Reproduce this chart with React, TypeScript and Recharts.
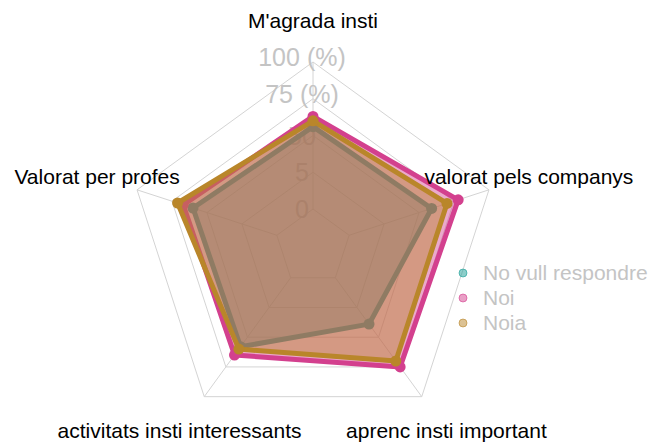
import React from "react";
import { RadarChart, Radar, PolarGrid, PolarAngleAxis, PolarRadiusAxis, Legend } from "recharts";

const categories = [
  "M'agrada insti",
  "valorat pels companys",
  "aprenc insti important",
  "activitats insti interessants",
  "Valorat per profes",
];
const noVullRespondre = [56, 59, 39, 58, 60];
const noi = [63, 78, 75, 65, 67];
const noia = [60, 70, 70, 60, 71];

const radiusTicks = [0, 25, 50, 75, 100];
const radiusTickLabels = ["0", "5", "50", "75 (%)", "100 (%)"];

const seriesKeys = ["nvr", "noi", "noia"];
const seriesNames = ["No vull respondre", "Noi", "Noia"];
const seriesColors = ["#1b9e96", "#d3408e", "#b9862a"];

const data = categories.map((axis, i) => ({
  axis,
  nvr: noVullRespondre[i],
  noi: noi[i],
  noia: noia[i],
}));

const CX = 313;
const CY = 247;
const FONT = "'Liberation Sans', Arial, sans-serif";

const AngleTick = (props: any) => {
  const { payload } = props;
  const cx = props.cx ?? CX;
  const cy = props.cy ?? CY;
  const rad = (-payload.coordinate * Math.PI) / 180;
  const r = 227;
  return (
    <text
      x={cx + r * Math.cos(rad)}
      y={cy + r * Math.sin(rad)}
      textAnchor="middle"
      dominantBaseline="central"
      fontSize={21}
      fontFamily={FONT}
      fill="#000"
    >
      {payload.value}
    </text>
  );
};

const RadiusTick = (props: any) => {
  const { x, y, index } = props;
  const label = radiusTickLabels[index];
  return (
    <text
      x={x - 11}
      y={y}
      dy={label.includes("%") ? -5 : 0}
      textAnchor="middle"
      dominantBaseline="central"
      fontSize={25}
      fontFamily={FONT}
      fill="#c4c4c4"
    >
      {label}
    </text>
  );
};

// polygon + vertex dots drawn together so later series cover earlier dots
const makeShape = (color: string) => (props: any) => {
  const pts = props.points || [];
  return (
    <g>
      <polygon
        points={pts.map((p: any) => `${p.x},${p.y}`).join(" ")}
        fill={color}
        fillOpacity={0.45}
        stroke={color}
        strokeWidth={5}
        strokeLinejoin="round"
      />
      {pts.map((p: any, i: number) => (
        <circle key={i} cx={p.x} cy={p.y} r={5.5} fill={color} />
      ))}
    </g>
  );
};

const renderLegend = () => (
  <div style={{ fontFamily: FONT }}>
    {seriesNames.map((name, i) => (
      <div key={name} style={{ display: "flex", alignItems: "center", height: 25, whiteSpace: "nowrap" }}>
        <svg width={10} height={10} style={{ flex: "none" }}>
          <circle cx={5} cy={5} r={4} fill={seriesColors[i]} fillOpacity={0.5} stroke={seriesColors[i]} strokeOpacity={0.6} />
        </svg>
        <span style={{ marginLeft: 15, color: "#c4c4c4", fontSize: 21 }}>{name}</span>
      </div>
    ))}
  </div>
);

export default function App() {
  return (
    <div style={{ position: "fixed", left: 0, top: 0, width: 648, height: 443, overflow: "hidden", background: "#fff" }}>
      <RadarChart
        width={648}
        height={443}
        data={data}
        cx={CX}
        cy={CY}
        innerRadius={38}
        outerRadius={185}
        margin={{ top: 0, right: 0, bottom: 0, left: 0 }}
      >
        <PolarGrid stroke="#d4d4d4" strokeWidth={1} />
        <PolarAngleAxis dataKey="axis" tick={<AngleTick />} tickLine={false} axisLine={false} />
        <PolarRadiusAxis
          angle={90}
          domain={[0, 100]}
          ticks={radiusTicks}
          tick={<RadiusTick />}
          tickLine={false}
          axisLine={false}
          zIndex={-50}
        />
        {seriesKeys.map((k, i) => (
          <Radar
            key={k}
            name={seriesNames[i]}
            dataKey={k}
            stroke={seriesColors[i]}
            fill={seriesColors[i]}
            shape={makeShape(seriesColors[i])}
            dot={false}
            isAnimationActive={false}
          />
        ))}
        <Legend
          layout="vertical"
          align="right"
          verticalAlign="middle"
          content={renderLegend}
          wrapperStyle={{ left: 458, top: 260, width: 190, overflow: "hidden" }}
        />
      </RadarChart>
    </div>
  );
}
